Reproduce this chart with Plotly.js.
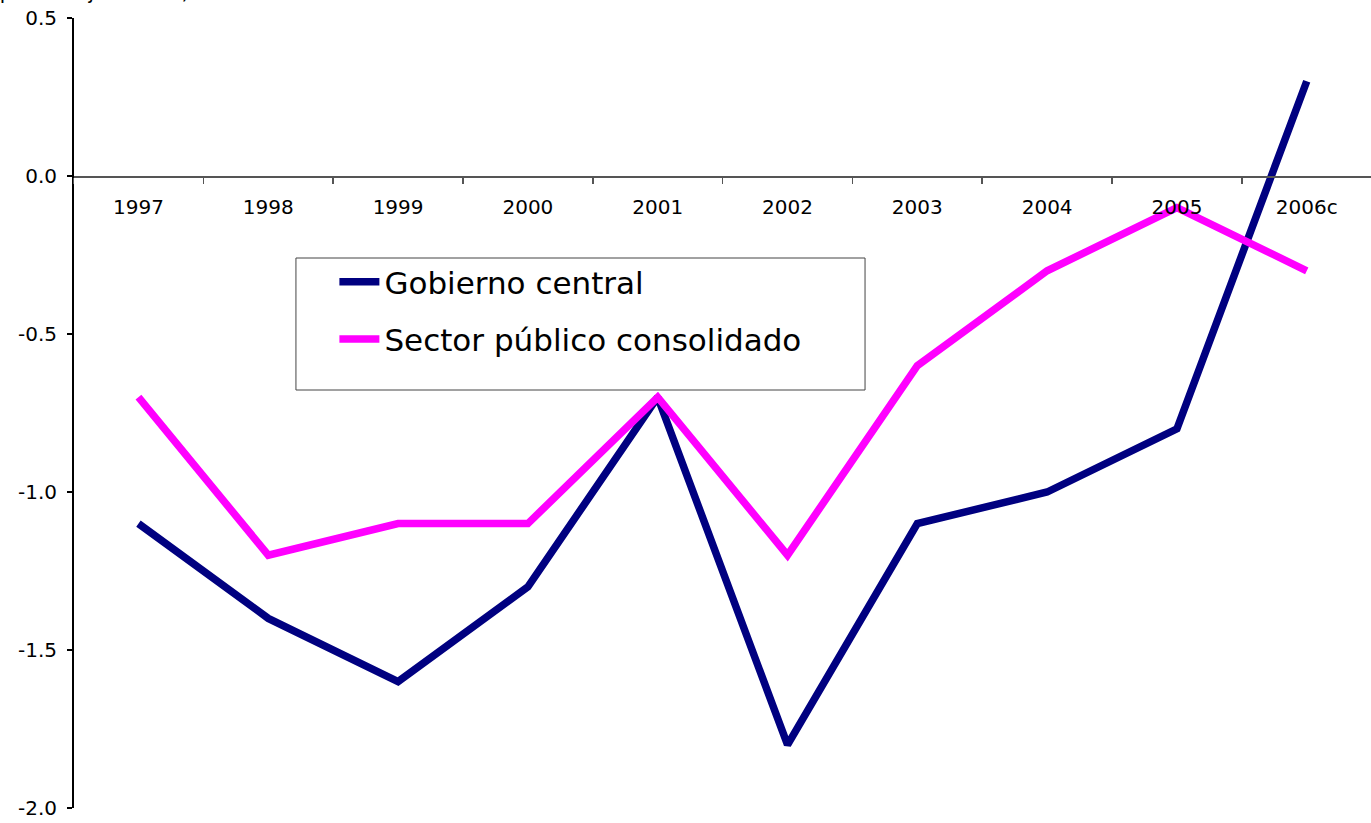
<!DOCTYPE html>
<html>
<head>
<meta charset="utf-8">
<script src="https://cdn.plot.ly/plotly-3.0.1.min.js"></script>
<style>html,body{margin:0;padding:0;background:#fff;}#chart{width:1371px;height:823px;}</style>
</head>
<body>
<div id="chart"></div>
<script>
var years = ["1997","1998","1999","2000","2001","2002","2003","2004","2005","2006c"];
var gobiernoCentral = [-1.1, -1.4, -1.6, -1.3, -0.7, -1.8, -1.1, -1.0, -0.8, 0.3];
var sectorPublico = [-0.7, -1.2, -1.1, -1.1, -0.7, -1.2, -0.6, -0.3, -0.1, -0.3];
var yTickVals = [0.5, 0.0, -0.5, -1.0, -1.5, -2.0];
var yTickText = ["0.5", "0.0", "-0.5", "-1.0", "-1.5", "-2.0"];
var unitLabel = "(porcentaje del PIB)";

var font = "DejaVu Sans, Verdana, sans-serif";

var traces = [
  {x: years, y: gobiernoCentral, type: "scatter", mode: "lines", name: "Gobierno central",
   legendgroup: "g1", line: {color: "#000080", width: 7.5}},
  {x: years, y: sectorPublico, type: "scatter", mode: "lines", name: "Sector público consolidado",
   legendgroup: "g2", line: {color: "#FF00FF", width: 7.5}}
];

var layout = {
  width: 1371, height: 823,
  margin: {l: 72, r: 0, t: 18, b: 15, pad: 0},
  paper_bgcolor: "#fff", plot_bgcolor: "#fff",
  font: {family: font, size: 20, color: "#000"},
  showlegend: true,
  legend: {
    x: 0.202, y: 0.700, xanchor: "left", yanchor: "top",
    bgcolor: "rgba(0,0,0,0)", borderwidth: 0,
    font: {family: font, size: 31, color: "#000"},
    traceorder: "grouped", tracegroupgap: 14,
    itemwidth: 40
  },
  xaxis: {
    type: "category", range: [-0.512, 9.495],
    anchor: "free", position: 0.8,
    showline: true, linecolor: "#555", linewidth: 1.5,
    ticks: "outside", tickson: "boundaries", ticklen: 6, tickcolor: "#555", tickwidth: 1.5,
    ticklabelstandoff: 12,
    showgrid: false, zeroline: false,
    tickfont: {family: font, size: 20, color: "#000"},
    fixedrange: true
  },
  yaxis: {
    range: [-2.0, 0.5],
    anchor: "free", position: 0,
    showline: true, linecolor: "#000", linewidth: 1.5,
    ticks: "outside", ticklen: 5, tickcolor: "#000", tickwidth: 1.5,
    tickmode: "array", tickvals: yTickVals, ticktext: yTickText,
    ticklabelstandoff: 6,
    showgrid: false, zeroline: false,
    tickfont: {family: font, size: 20, color: "#000"},
    fixedrange: true
  },
  shapes: [
    {type: "rect", xref: "paper", yref: "paper",
     x0: 0.1724, x1: 0.6105, y0: 0.5291, y1: 0.6962,
     line: {color: "#444", width: 1}, fillcolor: "rgba(0,0,0,0)", layer: "above"}
  ],
  annotations: [
    {text: unitLabel, xref: "paper", yref: "paper", x: -0.062, y: 1.0, xanchor: "left", yanchor: "bottom",
     yshift: 13, showarrow: false, borderpad: 0, font: {family: font, size: 20, color: "#000"}}
  ]
};

Plotly.newPlot("chart", traces, layout, {displayModeBar: false, staticPlot: true});
</script>
</body>
</html>
